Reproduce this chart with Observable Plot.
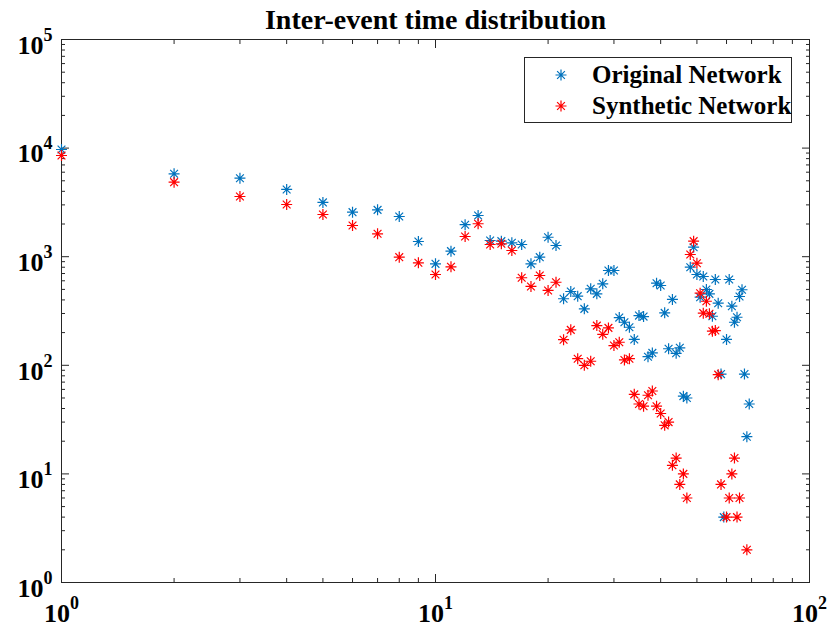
<!DOCTYPE html>
<html>
<head>
<meta charset="utf-8">
<script src="https://cdn.jsdelivr.net/npm/d3@7"></script>
<script src="https://cdn.jsdelivr.net/npm/@observablehq/plot@0.6"></script>
<style>
  body { margin: 0; background: #fff; }
  #chart { position: relative; width: 832px; height: 629px; }
  .legend { position: absolute; background: #fff; border: 1px solid #262626; box-sizing: border-box;
            font-family: "Liberation Serif", "Times New Roman", serif; font-weight: bold; color: #000; }
  .legend .row { position: absolute; left: 0; height: 26px; line-height: 26px; white-space: nowrap; }
  .legend svg { position: absolute; top: 6px; }
  .legend span { position: absolute; font-size: 25px; }
</style>
</head>
<body>
<div id="chart"></div>
<script>
// Inter-event gap (x) and number of occurrences (y) for each network
const originalGap = d3.range(1, 70);
const originalCount = [
  9710, 5800, 5280, 4160, 3160, 2570, 2700, 2345, 1380, 860,
  1125, 1970, 2395, 1410, 1390, 1343, 1295, 860, 990, 1510,
  1268, 410, 478, 433, 331, 506, 455, 563, 746, 746,
  275, 249, 224, 173, 287, 281, 120, 130, 570, 543,
  304, 142, 404, 129, 145, 52, 50, 800, 1223, 686,
  424, 657, 499, 455, 283, 617, 373, 83, 4, 173,
  617, 350, 249, 277, 430, 496, 83, 22, 44
];

const syntheticGap = [...d3.range(1, 59), 60, 61, 62, 63, 64, 65, 68];
const syntheticCount = [
  8550, 4855, 3585, 3025, 2447, 1937, 1625, 990, 879, 686,
  807, 1535, 2010, 1295, 1315, 1140, 640, 532, 671, 489,
  582, 172, 212, 115, 100, 109, 232, 193, 221, 152,
  163, 112, 115, 54, 44, 42, 53, 58, 42, 36,
  28, 30, 12, 14, 8, 10, 6, 1048, 1390, 871,
  461, 302, 389, 298, 206, 209, 82, 8,
  4, 6, 10, 14, 4, 6, 2
];

const seriesNames = ["Original Network", "Synthetic Network"];
const seriesColors = ["#0072bd", "#ff0000"];
const chartTitle = "Inter-event time distribution";

const xMajor = [1, 10, 100];
const yMajor = [1, 10, 100, 1000, 10000, 100000];
const minorOf = (majors) => majors.slice(0, -1).flatMap(m => d3.range(2, 10).map(k => k * m));
const xMinor = minorOf(xMajor);
const yMinor = minorOf(yMajor);

const original = originalGap.map((g, i) => ({gap: g, count: originalCount[i]}));
const synthetic = syntheticGap.map((g, i) => ({gap: g, count: syntheticCount[i]}));

// MATLAB-style "*" marker: a plus overlaid with a cross
const asterisk = {
  draw(context, size) {
    const r = Math.sqrt(size / Math.PI);
    const d = r * Math.SQRT1_2;
    context.moveTo(-r, 0); context.lineTo(r, 0);
    context.moveTo(0, -r); context.lineTo(0, r);
    context.moveTo(-d, -d); context.lineTo(d, d);
    context.moveTo(-d, d); context.lineTo(d, -d);
  }
};

const expFormat = d => `10^${Math.round(Math.log10(d))}`;
const blank = () => "";
const labelFont = {fontSize: 26, fontWeight: "bold"};
const AXIS = "#262626";

const plot = Plot.plot({
  width: 832,
  height: 629,
  marginLeft: 61,
  marginRight: 23,
  marginTop: 39,
  marginBottom: 47,
  x: {type: "log", domain: [1, 100]},
  y: {type: "log", domain: [1, 100000]},
  style: {fontFamily: "'Liberation Serif', 'Times New Roman', serif", background: "#fff", color: "#000"},
  marks: [
    // inward ticks on all four sides
    Plot.axisX(xMinor, {anchor: "bottom", tickSize: -4, tickFormat: blank, label: null, stroke: AXIS}),
    Plot.axisX(xMinor, {anchor: "top", tickSize: -4, tickFormat: blank, label: null, stroke: AXIS}),
    Plot.axisX(xMajor, {anchor: "bottom", tickSize: -8, tickFormat: blank, label: null, stroke: AXIS}),
    Plot.axisX(xMajor, {anchor: "top", tickSize: -8, tickFormat: blank, label: null, stroke: AXIS}),
    Plot.axisY(yMinor, {anchor: "left", tickSize: -4, tickFormat: blank, label: null, stroke: AXIS}),
    Plot.axisY(yMinor, {anchor: "right", tickSize: -4, tickFormat: blank, label: null, stroke: AXIS}),
    Plot.axisY(yMajor, {anchor: "left", tickSize: -8, tickFormat: blank, label: null, stroke: AXIS}),
    Plot.axisY(yMajor, {anchor: "right", tickSize: -8, tickFormat: blank, label: null, stroke: AXIS}),
    // power-of-ten labels
    Plot.axisX(xMajor, {anchor: "bottom", tickSize: 0, tickPadding: 21, tickFormat: expFormat, label: null, ...labelFont}),
    Plot.axisY(yMajor, {anchor: "left", tickSize: 0, tickPadding: 9, dy: 6, tickFormat: expFormat, label: null, ...labelFont}),
    Plot.frame({stroke: AXIS, strokeWidth: 1}),
    Plot.dot(original, {x: "gap", y: "count", symbol: asterisk, r: 5.5, stroke: seriesColors[0], strokeWidth: 1.2, fill: "none"}),
    Plot.dot(synthetic, {x: "gap", y: "count", symbol: asterisk, r: 5.5, stroke: seriesColors[1], strokeWidth: 1.2, fill: "none"}),
    Plot.text([chartTitle], {frameAnchor: "top", lineAnchor: "bottom", dy: -11, fontSize: 28, fontWeight: "bold", fill: "#000"})
  ]
});

// turn "10^k" labels into a base with a raised exponent
d3.select(plot).selectAll("text").each(function() {
  const t = this.textContent;
  if (!t.includes("^")) return;
  const [base, exp] = t.split("^");
  const sel = d3.select(this);
  sel.text(base);
  sel.append("tspan").attr("dy", -13).attr("font-size", 18).text(exp);
});

const chart = document.getElementById("chart");
chart.appendChild(plot);

// legend box
const legend = d3.select(chart).append("div").attr("class", "legend")
  .style("left", "524px").style("top", "57px").style("width", "268px").style("height", "66px");
seriesNames.forEach((name, i) => {
  const row = legend.append("div").attr("class", "row").style("top", `${4 + i * 31}px`).style("width", "100%");
  const icon = row.append("svg").attr("width", 14).attr("height", 14).style("left", "29px");
  icon.append("path")
    .attr("transform", "translate(7,7)")
    .attr("d", () => { const p = d3.path(); asterisk.draw(p, Math.PI * 5.5 * 5.5); return p.toString(); })
    .attr("stroke", seriesColors[i]).attr("fill", "none").attr("stroke-width", 1.2);
  row.append("span").style("left", "67px").text(name);
});
</script>
</body>
</html>
